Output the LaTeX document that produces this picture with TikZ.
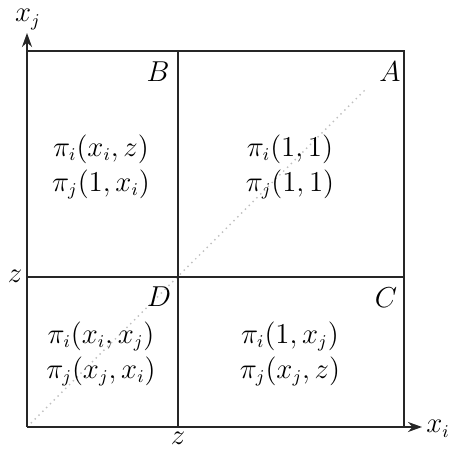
\documentclass[tikz,border=0pt]{standalone}
\usetikzlibrary{arrows.meta}
\begin{document}
\begin{tikzpicture}[x=0.5pt,y=-0.5pt,
  every node/.style={font=\fontsize{13.5}{17.5}\selectfont},
  frame/.style={line width=1.4pt,black!85},
  axis/.style={line width=1.4pt,black!85,-{Stealth[length=7pt,width=5pt]}},
  diag/.style={dotted,gray!50,line width=0.7pt},
  cell/.style={align=center,inner sep=0pt},
  corner/.style={inner sep=0pt}]
\useasboundingbox (0,0) rectangle (451,449);
% key coordinates
\coordinate (O) at (27,427);
\coordinate (TL) at (27,51);
\coordinate (TM) at (178,51);
\coordinate (TR) at (404,51);
\coordinate (ML) at (27,277);
\coordinate (MM) at (178,277);
\coordinate (MR) at (404,277);
\coordinate (BM) at (178,427);
\coordinate (BR) at (404,427);
\coordinate (YE) at (27,33);
\coordinate (XE) at (422,427);
\coordinate (DE) at (366,89);
% diagonal
\draw[diag] (O) -- (DE);
% frame
\draw[frame] (TL) -- (TR) -- (BR);
\draw[frame] (ML) -- (MR);
\draw[frame] (TM) -- (BM);
% axes
\draw[axis] (O) -- (YE);
\draw[axis] (O) -- (XE);
% axis labels
\node[inner sep=0pt,anchor=base] (xj) at (28,22) {$x_j$};
\node[inner sep=0pt,anchor=base] (xi) at (438,433) {$x_i$};
\node[inner sep=0pt,anchor=base] (zl) at (15,283) {$z$};
\node[inner sep=0pt,anchor=base] (zb) at (178,445) {$z$};
% corner letters
\node[corner] (B) at (158,72) {$B$};
\node[corner] (A) at (390,72) {$A$};
\node[corner] (D) at (159,297) {$D$};
\node[corner] (C) at (386,298) {$C$};
% cell contents
\node[cell] (tB) at (101,167) {$\pi_i(x_i,z)$\\$\pi_j(1,x_i)$};
\node[cell] (tA) at (290,167) {$\pi_i(1,1)$\\$\pi_j(1,1)$};
\node[cell] (tD) at (101,354) {$\pi_i(x_i,x_j)$\\$\pi_j(x_j,x_i)$};
\node[cell] (tC) at (290,354) {$\pi_i(1,x_j)$\\$\pi_j(x_j,z)$};
\end{tikzpicture}
\end{document}
